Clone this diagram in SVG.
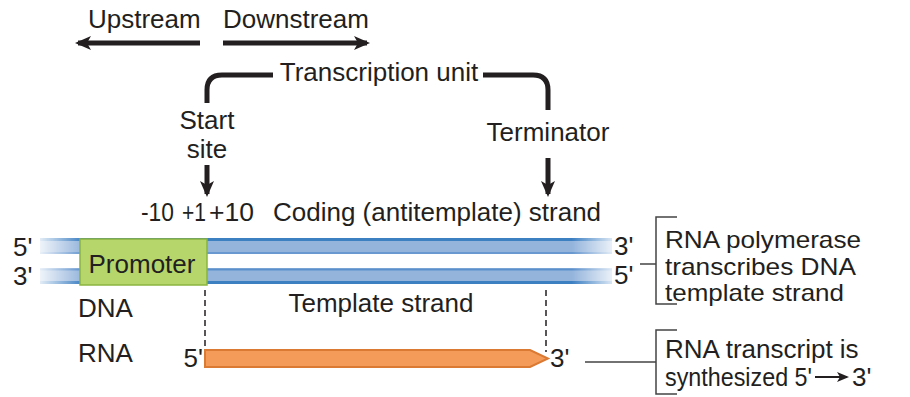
<svg xmlns="http://www.w3.org/2000/svg" width="910" height="397" viewBox="0 0 910 397">
<style>
text{font-family:"Liberation Sans",Arial,sans-serif;font-size:26px;fill:#231f20}
.sm{font-size:24px}
.thick{fill:none;stroke:#231f20;stroke-width:5}
.thin{fill:none;stroke:#444;stroke-width:1.5}
.dash{fill:none;stroke:#231f20;stroke-width:1.5;stroke-dasharray:6 4}
</style>
<defs>
<linearGradient id="fade" gradientUnits="userSpaceOnUse" x1="40" y1="0" x2="612" y2="0">
<stop offset="0" stop-color="#fff" stop-opacity="0.15"/>
<stop offset="0.075" stop-color="#fff" stop-opacity="1"/>
<stop offset="0.93" stop-color="#fff" stop-opacity="1"/>
<stop offset="1" stop-color="#fff" stop-opacity="0.2"/>
</linearGradient>
<mask id="m" maskUnits="userSpaceOnUse" x="0" y="0" width="910" height="397">
<rect x="40" y="230" width="572" height="60" fill="url(#fade)"/>
</mask>
<marker id="ah" viewBox="0 0 12 10" refX="10" refY="5" markerWidth="12" markerHeight="10" markerUnits="userSpaceOnUse" orient="auto">
<path d="M0,0 L12,5 L0,10 L3,5 Z" fill="#231f20"/>
</marker>
<marker id="ahb" viewBox="0 0 16 14" refX="13" refY="7" markerWidth="16" markerHeight="14" markerUnits="userSpaceOnUse" orient="auto">
<path d="M0,0 L16,7 L0,14 L4,7 Z" fill="#231f20"/>
</marker>
</defs>

<g id="connectors">
<line class="thick" x1="200" y1="43" x2="78" y2="43" marker-end="url(#ahb)"/>
<line class="thick" x1="223" y1="43" x2="367" y2="43" marker-end="url(#ahb)"/>
<path class="thick" d="M207,103 V90 Q207,75 222,75 H273"/>
<path class="thick" d="M483,75 H533 Q548,75 548,90 V110"/>
<line class="thick" x1="207" y1="165" x2="207" y2="194" marker-end="url(#ahb)"/>
<line class="thick" x1="548" y1="158" x2="548" y2="194" marker-end="url(#ahb)"/>
<line class="dash" x1="205" y1="290" x2="205" y2="350"/>
<line class="dash" x1="546" y1="290" x2="546" y2="352"/>
<path class="thin" d="M677,217 H656 V304 H677 M640,264 H656"/>
<path class="thin" d="M677,330 H656 V394 H677 M585,362 H656"/>
<line x1="815" y1="377" x2="847" y2="377" stroke="#231f20" stroke-width="2" marker-end="url(#ah)"/>
</g>

<g id="dna" mask="url(#m)">
<rect x="40" y="238" width="572" height="16" fill="#94b4dc"/>
<line x1="40" y1="239.5" x2="612" y2="239.5" stroke="#3d80c2" stroke-width="3"/>
<line x1="40" y1="253" x2="612" y2="253" stroke="#5a8fcb" stroke-width="1.5"/>
<rect x="40" y="268" width="572" height="16" fill="#94b4dc"/>
<line x1="40" y1="269.5" x2="612" y2="269.5" stroke="#5a8fcb" stroke-width="2"/>
<line x1="40" y1="282.5" x2="612" y2="282.5" stroke="#3d80c2" stroke-width="3"/>
</g>

<g id="promoter">
<rect x="80" y="239" width="127" height="46" fill="#b6d66c" stroke="#8ab43f" stroke-width="1.5"/>
<text x="142" y="273" text-anchor="middle">Promoter</text>
</g>

<g id="rna">
<path d="M205,350 H530 L548,358.5 L530,367 H205 Z" fill="#f59b5a" stroke="#db7a33" stroke-width="2"/>
</g>

<g id="labels">
<text x="88" y="28">Upstream</text>
<text x="223" y="28">Downstream</text>
<text x="379" y="81" text-anchor="middle">Transcription unit</text>
<text x="207" y="129" text-anchor="middle">Start</text>
<text x="207" y="158" text-anchor="middle">site</text>
<text x="548" y="141" text-anchor="middle">Terminator</text>
<text x="141" y="221" textLength="33" lengthAdjust="spacingAndGlyphs">-10</text>
<text x="182" y="221" textLength="24" lengthAdjust="spacingAndGlyphs">+1</text>
<text x="209" y="221" textLength="45" lengthAdjust="spacingAndGlyphs">+10</text>
<text x="273" y="221">Coding (antitemplate) strand</text>
<text x="13" y="256">5'</text>
<text x="13" y="285">3'</text>
<text x="614" y="255">3'</text>
<text x="614" y="284">5'</text>
<text x="78" y="317">DNA</text>
<text x="381" y="312" text-anchor="middle">Template strand</text>
<text x="78" y="362">RNA</text>
<text x="203" y="367" text-anchor="end">5'</text>
<text x="550" y="367">3'</text>
<text class="sm" x="665" y="248" textLength="196" lengthAdjust="spacingAndGlyphs">RNA polymerase</text>
<text class="sm" x="665" y="275" textLength="191" lengthAdjust="spacingAndGlyphs">transcribes DNA</text>
<text class="sm" x="665" y="301" textLength="179" lengthAdjust="spacingAndGlyphs">template strand</text>
<text x="665" y="358">RNA transcript is</text>
<text x="665" y="386" textLength="147" lengthAdjust="spacingAndGlyphs">synthesized 5'</text>
<text x="852" y="386">3'</text>
</g>
</svg>
